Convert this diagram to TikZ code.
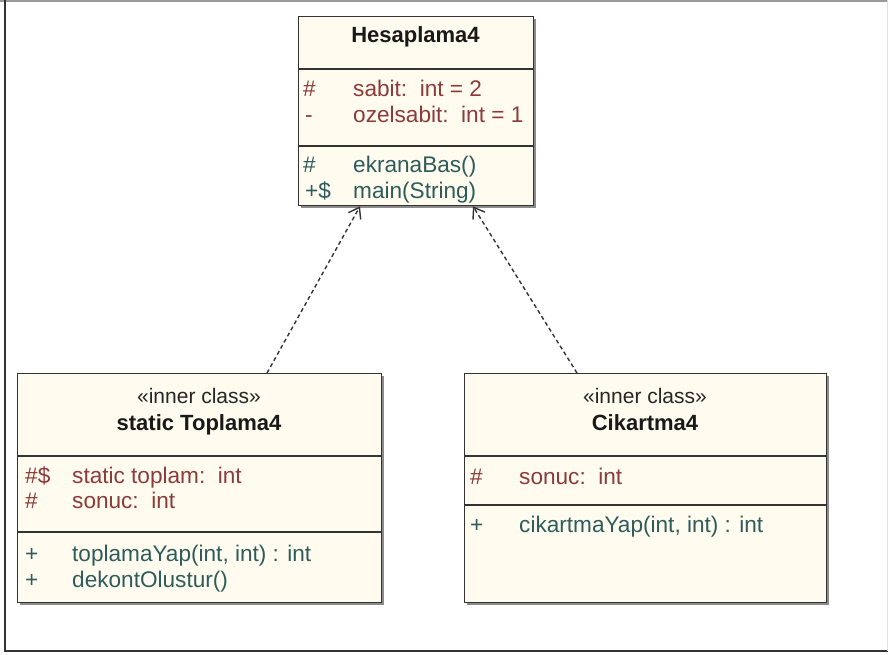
\documentclass[tikz,border=0pt]{standalone}
\usepackage{fontspec}
\setmainfont{Liberation Sans}
\usetikzlibrary{arrows.meta,calc}
\definecolor{cream}{HTML}{FFFBEF}
\definecolor{attrc}{HTML}{8C3B3B}
\definecolor{methc}{HTML}{2E5C5C}
\definecolor{edgec}{HTML}{333333}
\tikzset{
 classbox/.style={draw=edgec, fill=cream, line width=1.3pt, inner sep=0pt, anchor=north west},
 shadowbox/.style={fill=black!45},
 divider/.style={draw=edgec, line width=1.3pt},
 txt/.style={font=\fontsize{22.6}{26}\selectfont, inner sep=0pt, anchor=base west},
 attrtxt/.style={txt, text=attrc},
 methtxt/.style={txt, text=methc},
 titletxt/.style={font=\fontsize{22}{26}\selectfont\bfseries, inner sep=0pt, anchor=base, text=black!90},
 stereotxt/.style={font=\fontsize{21}{26}\selectfont, inner sep=0pt, anchor=base, text=black!85},
 dep/.style={draw=edgec, line width=1.4pt, dash pattern=on 4pt off 3pt, -{Straight Barb[length=10pt,width=14pt]}},
 framec/.style={draw=black!80, line width=2pt},
}
\begin{document}
\begin{tikzpicture}[x=1pt,y=-1pt]
\useasboundingbox (0,0) rectangle (888,655);
\fill[white] (0,0) rectangle (888,655);
% outer frame
\draw[black!40, line width=2pt] (0,1) -- (888,1);
\draw[framec] (5,0) -- (5,651) -- (888,651);
\draw[black!12, line width=1pt] (887,0) -- (887,651);

% shadows
\fill[shadowbox] (301,19) rectangle (536,208);
\fill[shadowbox] (20,376) rectangle (384,605);
\fill[shadowbox] (467,376) rectangle (829,605);

% class boxes
\node[classbox, minimum width=235pt, minimum height=189pt] (h) at (298,16) {};
\node[classbox, minimum width=364pt, minimum height=229pt] (t) at (17,373) {};
\node[classbox, minimum width=362pt, minimum height=229pt] (c) at (464,373) {};

% dividers
\draw[divider] ($(h.north west)+(0,53)$) -- ($(h.north east)+(0,53)$);
\draw[divider] ($(h.north west)+(0,130)$) -- ($(h.north east)+(0,130)$);
\draw[divider] ($(t.north west)+(0,83)$) -- ($(t.north east)+(0,83)$);
\draw[divider] ($(t.north west)+(0,159)$) -- ($(t.north east)+(0,159)$);
\draw[divider] ($(c.north west)+(0,83)$) -- ($(c.north east)+(0,83)$);
\draw[divider] ($(c.north west)+(0,132)$) -- ($(c.north east)+(0,132)$);

% Hesaplama4
\node[titletxt] (htitle) at (415.5,43) {Hesaplama4};
\node[attrtxt] (ha1s) at (303,97) {\#};
\node[attrtxt] (ha1) at (353,97) {sabit:\ \ int = 2};
\node[attrtxt] (ha2s) at (305,123) {-};
\node[attrtxt] (ha2) at (353,123) {ozelsabit:\ \ int = 1};
\node[methtxt] (hm1s) at (303,173) {\#};
\node[methtxt] (hm1) at (353,173) {ekranaBas()};
\node[methtxt] (hm2s) at (305,198) {+\$};
\node[methtxt] (hm2) at (353,198) {main(String)};

% Toplama4
\node[stereotxt] (tst) at (199,403) {«inner class»};
\node[titletxt] (ttitle) at (199,430) {static Toplama4};
\node[attrtxt] (ta1s) at (25,483) {\#\$};
\node[attrtxt] (ta1) at (72,483) {static toplam:\ \ int};
\node[attrtxt] (ta2s) at (25,508) {\#};
\node[attrtxt] (ta2) at (72,508) {sonuc:\ \ int};
\node[methtxt] (tm1s) at (25,561) {+};
\node[methtxt] (tm1) at (72,561) {toplamaYap(int, int) : int};
\node[methtxt] (tm2s) at (25,587) {+};
\node[methtxt] (tm2) at (72,587) {dekontOlustur()};

% Cikartma4
\node[stereotxt] (cst) at (645,403) {«inner class»};
\node[titletxt] (ctitle) at (645,430) {Cikartma4};
\node[attrtxt] (ca1s) at (470,484) {\#};
\node[attrtxt] (ca1) at (519,484) {sonuc:\ \ int};
\node[methtxt] (cm1s) at (470,532) {+};
\node[methtxt] (cm1) at (519,532) {cikartmaYap(int, int) : int};

% dependencies
\draw[dep] ($(t.north west)+(250,0)$) -- ($(h.south west)+(62,0)$);
\draw[dep] ($(c.north west)+(113,0)$) -- ($(h.south west)+(175,0)$);
\end{tikzpicture}
\end{document}
